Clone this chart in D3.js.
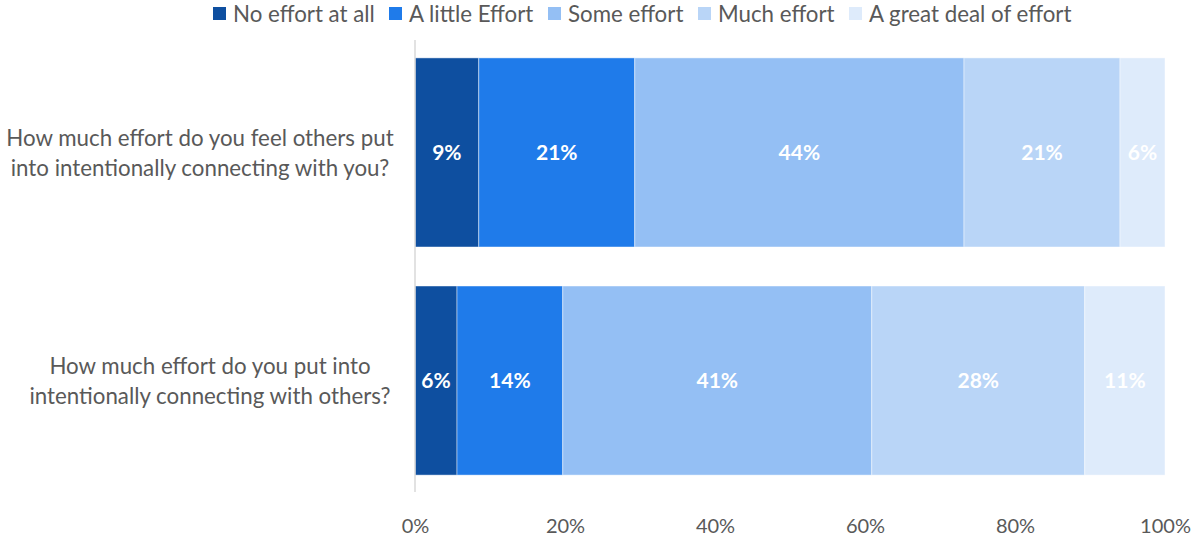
<!DOCTYPE html>
<html>
<head>
<meta charset="utf-8">
<script src="https://cdn.jsdelivr.net/npm/d3@7"></script>
<style>
  html, body { margin: 0; padding: 0; background: #fff; }
  svg { display: block; font-family: Lato, "Open Sans", sans-serif; }
</style>
</head>
<body>
<svg id="chart" width="1192" height="537"></svg>
<script>
// Survey questions (one bar each)
const questions = [
  "How much effort do you feel others put into intentionally connecting with you?",
  "How much effort do you put into intentionally connecting with others?"
];
const questionLines = [
  ["How much effort do you feel others put", "into intentionally connecting with you?"],
  ["How much effort do you put into", "intentionally connecting with others?"]
];

// Response levels, in stacking order
const levels = ["No effort at all", "A little Effort", "Some effort", "Much effort", "A great deal of effort"];
const levelColors = ["#0E4FA0", "#1F7BEA", "#94BFF4", "#B9D5F7", "#DEEBFB"];

// Share of respondents per level (percent), one array per question
const othersToYou = [8.5, 20.8, 43.9, 20.8, 6.0];
const youToOthers = [5.6, 14.1, 41.2, 28.4, 10.7];
const seriesValues = [othersToYou, youToOthers];

// Axis tick values
const tickValues = [0, 0.2, 0.4, 0.6, 0.8, 1.0];

const svg = d3.select("#chart");
const textColor = "#595959";

const x = d3.scaleLinear().domain([0, 1]).range([415, 1165]);
const y = d3.scaleBand().domain(questions).range([38.5, 494.5])
  .paddingInner(0.171).paddingOuter(0.085);
const color = d3.scaleOrdinal().domain(levels).range(levelColors);

// Build stacked rows
const rows = questions.map((q, i) => {
  const obj = { question: q };
  levels.forEach((l, j) => obj[l] = seriesValues[i][j] / 100);
  return obj;
});
const stack = d3.stack().keys(levels)(rows);

// Bars
const layers = svg.append("g").selectAll("g")
  .data(stack).join("g")
  .attr("fill", d => color(d.key));

layers.selectAll("rect")
  .data(d => d.map(p => ({ p, key: d.key })))
  .join("rect")
  .attr("x", d => x(d.p[0]))
  .attr("y", d => y(d.p.data.question))
  .attr("width", d => x(d.p[1]) - x(d.p[0]))
  .attr("height", y.bandwidth())
  .attr("stroke", "#ffffff")
  .attr("stroke-opacity", 0.45)
  .attr("stroke-width", 1);

// Value labels
layers.selectAll("text")
  .data(d => d.map(p => ({ p, key: d.key })))
  .join("text")
  .attr("x", d => (x(d.p[0]) + x(d.p[1])) / 2)
  .attr("y", d => y(d.p.data.question) + y.bandwidth() / 2)
  .attr("dy", "0.35em")
  .attr("text-anchor", "middle")
  .attr("fill", "#ffffff")
  .attr("font-size", 21)
  .attr("font-weight", "bold")
  .text(d => Math.round((d.p[1] - d.p[0]) * 100) + "%");

// Vertical category axis line
svg.append("line")
  .attr("x1", x(0)).attr("x2", x(0))
  .attr("y1", 40).attr("y2", 492)
  .attr("stroke", "#d9d9d9").attr("stroke-width", 1.5);

// Bottom axis labels
const xAxis = d3.axisBottom(x).tickValues(tickValues)
  .tickFormat(d3.format(".0%")).tickSize(0).tickPadding(0);
const gx = svg.append("g").attr("transform", "translate(0,519)").call(xAxis);
gx.select(".domain").remove();
gx.selectAll("text").attr("font-size", 20).attr("fill", textColor)
  .attr("font-family", "Lato, 'Open Sans', sans-serif");

// Question labels
const labelCenters = [200, 210];
questions.forEach((q, i) => {
  const cy = y(q) + y.bandwidth() / 2;
  const t = svg.append("text")
    .attr("text-anchor", "middle")
    .attr("fill", textColor)
    .attr("font-size", 22.3);
  questionLines[i].forEach((line, k) => {
    t.append("tspan")
      .attr("x", labelCenters[i])
      .attr("y", cy - 14 + k * 30)
      .attr("dy", "0.35em")
      .text(line);
  });
});

// Legend
const legendX = [233, 409, 568, 718, 869];
const legend = svg.append("g");
levels.forEach((l, i) => {
  const g = legend.append("g").attr("transform", `translate(${legendX[i]},14)`);
  g.append("rect").attr("x", -20).attr("y", -7).attr("width", 13).attr("height", 13)
    .attr("fill", color(l));
  g.append("text").attr("x", 0).attr("y", 0).attr("dy", "0.35em")
    .attr("fill", textColor).attr("font-size", 22.3).text(l);
});
</script>
</body>
</html>
